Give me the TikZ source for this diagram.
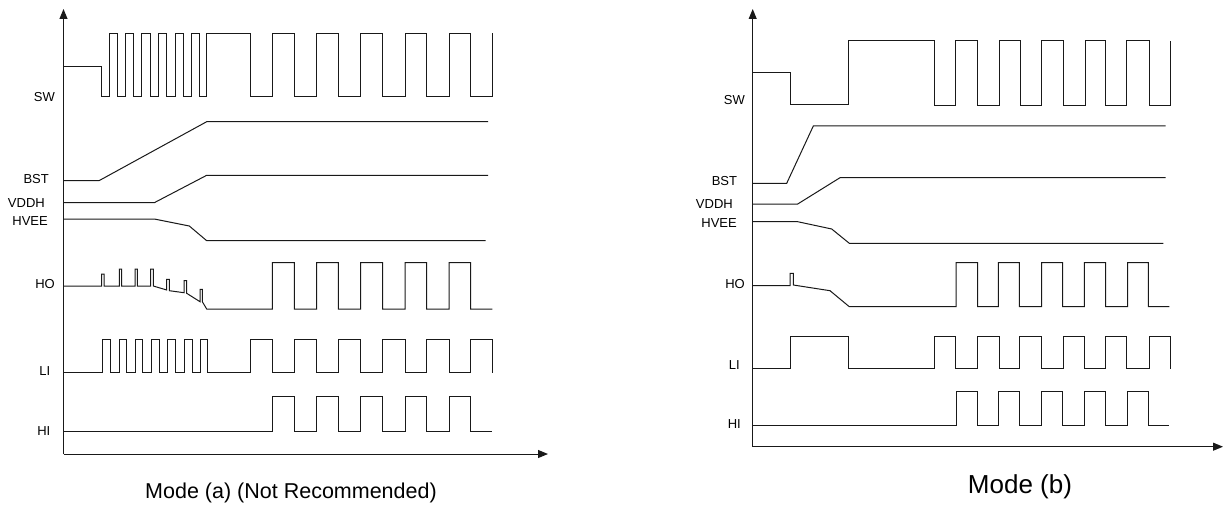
\documentclass[tikz,border=0pt]{standalone}
\usepackage{fontspec}
\setmainfont{Liberation Sans}
\usetikzlibrary{arrows.meta}
\tikzset{
  wave/.style={line width=1pt, line join=miter, draw=black!90},
  axisline/.style={line width=1pt, draw=black!90, -{Triangle[length=10pt,width=8pt]}},
  lbl/.style={font=\fontsize{13}{15}\selectfont, anchor=east, inner sep=0pt},
  capt/.style={font=\fontsize{21.5}{26}\selectfont, inner sep=0pt},
  captb/.style={font=\fontsize{26}{30}\selectfont, inner sep=0pt},
}
\begin{document}
\begin{tikzpicture}[x=1pt,y=-1pt]
\useasboundingbox (0,0) rectangle (1225,508);
% ===== LEFT: Mode (a) =====
\coordinate (oa) at (63.5,454);
\coordinate (ya) at (63.5,9);
\coordinate (xa) at (548,454);
\draw[axisline] (oa) -- (ya);
\draw[axisline] (oa) -- (xa);
% labels
\node[lbl] (swa) at (55,96.7) {SW};
\node[lbl] (bsta) at (49,179) {BST};
\node[lbl] (vddha) at (45,203) {VDDH};
\node[lbl] (hveea) at (48,221.5) {HVEE};
\node[lbl] (hoa) at (55,284.5) {HO};
\node[lbl] (lia) at (50.5,371.5) {LI};
\node[lbl] (hia) at (50.5,431.5) {HI};
% SW
\draw[wave] (63.5,66.7) -- (101.7,66.7) -- (101.7,96.7) -- (109.3,96.7) -- (109.3,33.3) -- (117.7,33.3) -- (117.7,96.7) -- (125,96.7) -- (125,33.3) -- (133.3,33.3) -- (133.3,96.7) -- (141.7,96.7) -- (141.7,33.3) -- (150,33.3) -- (150,96.7) -- (158.3,96.7) -- (158.3,33.3) -- (166.7,33.3) -- (166.7,96.7) -- (175,96.7) -- (175,33.3) -- (183.3,33.3) -- (183.3,96.7) -- (191,96.7) -- (191,33.3) -- (199,33.3) -- (199,96.7) -- (206.7,96.7) -- (206.7,33.3) -- (250,33.3) -- (250,96.7) -- (272.3,96.7) -- (272.3,33.3) -- (294.3,33.3) -- (294.3,96.7) -- (316.7,96.7) -- (316.7,33.3) -- (338.3,33.3) -- (338.3,96.7) -- (360.7,96.7) -- (360.7,33.3) -- (382.7,33.3) -- (382.7,96.7) -- (405,96.7) -- (405,33.3) -- (426.7,33.3) -- (426.7,96.7) -- (449,96.7) -- (449,33.3) -- (470.7,33.3) -- (470.7,96.7) -- (492.3,96.7) -- (492.3,33.3);
% BST
\draw[wave] (63.5,180.7) -- (99,180.7) -- (206.7,121.7) -- (488,121.7);
% VDDH
\draw[wave] (63.5,202.7) -- (154.3,202.7) -- (206.7,175.3) -- (488,175.3);
% HVEE
\draw[wave] (63.5,219) -- (154.3,219) -- (189.3,226) -- (206.7,240.7) -- (485.7,240.7);
% HO
\draw[wave] (63.5,286) -- (101.7,286) -- (101.7,274) -- (104,274) -- (104,286) -- (119.3,286) -- (119.3,269) -- (121.7,269) -- (121.7,286) -- (135,286) -- (135,269) -- (137.3,269) -- (137.3,286) -- (150.7,286) -- (150.7,269) -- (153.3,269) -- (153.3,286) -- (166.7,290) -- (166.7,279.3) -- (169.3,279.3) -- (169.3,290.7) -- (184,292.7) -- (184,280.7) -- (186.7,280.7) -- (186.7,293.3) -- (200,301.7) -- (200,289.3) -- (202.3,289.3) -- (202.3,301.7) -- (206.7,309) -- (272.3,309) -- (272.3,262.7) -- (294.3,262.7) -- (294.3,309) -- (316.7,309) -- (316.7,262.7) -- (338.3,262.7) -- (338.3,309) -- (360.7,309) -- (360.7,262.7) -- (382.7,262.7) -- (382.7,309) -- (405,309) -- (405,262.7) -- (426.7,262.7) -- (426.7,309) -- (449,309) -- (449,262.7) -- (470.7,262.7) -- (470.7,309) -- (492.3,309);
% LI
\draw[wave] (63.5,372.7) -- (102.7,372.7) -- (102.7,339.3) -- (110.7,339.3) -- (110.7,372.7) -- (119,372.7) -- (119,339.3) -- (126.7,339.3) -- (126.7,372.7) -- (135,372.7) -- (135,339.3) -- (142.7,339.3) -- (142.7,372.7) -- (151,372.7) -- (151,339.3) -- (159.3,339.3) -- (159.3,372.7) -- (167.7,372.7) -- (167.7,339.3) -- (175.3,339.3) -- (175.3,372.7) -- (184,372.7) -- (184,339.3) -- (192,339.3) -- (192,372.7) -- (200,372.7) -- (200,339.3) -- (207.3,339.3) -- (207.3,372.7) -- (250,372.7) -- (250,339.3) -- (272.3,339.3) -- (272.3,372.7) -- (294.3,372.7) -- (294.3,339.3) -- (316.7,339.3) -- (316.7,372.7) -- (338.3,372.7) -- (338.3,339.3) -- (360.7,339.3) -- (360.7,372.7) -- (382.7,372.7) -- (382.7,339.3) -- (405,339.3) -- (405,372.7) -- (426.7,372.7) -- (426.7,339.3) -- (449,339.3) -- (449,372.7) -- (470.7,372.7) -- (470.7,339.3) -- (492.3,339.3) -- (492.3,372.7);
% HI
\draw[wave] (63.5,431.7) -- (272.3,431.7) -- (272.3,396.7) -- (294.3,396.7) -- (294.3,431.7) -- (316.7,431.7) -- (316.7,396.7) -- (338.3,396.7) -- (338.3,431.7) -- (360.7,431.7) -- (360.7,396.7) -- (382.7,396.7) -- (382.7,431.7) -- (405,431.7) -- (405,396.7) -- (426.7,396.7) -- (426.7,431.7) -- (449,431.7) -- (449,396.7) -- (470.7,396.7) -- (470.7,431.7) -- (492.3,431.7);
\node[capt] (capa) at (291,493) {Mode (a) (Not Recommended)};
% ===== RIGHT: Mode (b) =====
\coordinate (ob) at (752.7,446.7);
\coordinate (yb) at (752.7,9);
\coordinate (xb) at (1223,446.7);
\draw[axisline] (ob) -- (yb);
\draw[axisline] (ob) -- (xb);
\node[lbl] (swb) at (745,100) {SW};
\node[lbl] (bstb) at (737.3,181.5) {BST};
\node[lbl] (vddhb) at (733,204) {VDDH};
\node[lbl] (hveeb) at (737,223) {HVEE};
\node[lbl] (hob) at (745,284.5) {HO};
\node[lbl] (lib) at (740,365.5) {LI};
\node[lbl] (hib) at (741,424.5) {HI};
% SW
\draw[wave] (752.7,72.3) -- (790,72.3) -- (790,105) -- (848.7,105) -- (848.7,40.7) -- (934.3,40.7) -- (934.3,105.5) -- (955.7,105.5) -- (955.7,40.7) -- (977.7,40.7) -- (977.7,105.5) -- (999,105.5) -- (999,40.7) -- (1020.3,40.7) -- (1020.3,105.5) -- (1041.7,105.5) -- (1041.7,40.7) -- (1063.3,40.7) -- (1063.3,105.5) -- (1085,105.5) -- (1085,40.7) -- (1105.7,40.7) -- (1105.7,105.5) -- (1126.7,105.5) -- (1126.7,40.7) -- (1149,40.7) -- (1149,105.5) -- (1170,105.5) -- (1170,41);
% BST
\draw[wave] (752.7,183.3) -- (786.7,183.3) -- (813.3,126) -- (1165.7,126);
% VDDH
\draw[wave] (752.7,204) -- (797.7,204) -- (840,177.7) -- (1165.7,177.7);
% HVEE
\draw[wave] (752.7,221.7) -- (797.7,221.7) -- (831.7,229) -- (849.3,243.3) -- (1163.3,243.3);
% HO
\draw[wave] (752.7,285.7) -- (790,285.7) -- (790,273.3) -- (793.3,273.3) -- (793.3,285) -- (830,290.7) -- (849.3,306.7) -- (956,306.7) -- (956,262.7) -- (977.7,262.7) -- (977.7,306.7) -- (998.3,306.7) -- (998.3,262.7) -- (1019.3,262.7) -- (1019.3,306.7) -- (1041.7,306.7) -- (1041.7,262.7) -- (1062.7,262.7) -- (1062.7,306.7) -- (1084.3,306.7) -- (1084.3,262.7) -- (1105.7,262.7) -- (1105.7,306.7) -- (1127.7,306.7) -- (1127.7,262.7) -- (1148.3,262.7) -- (1148.3,306.7) -- (1169.3,306.7);
% LI
\draw[wave] (752.7,368.7) -- (790,368.7) -- (790,336.7) -- (848.7,336.7) -- (848.7,368.7) -- (934.3,368.7) -- (934.3,336.7) -- (955.7,336.7) -- (955.7,368.7) -- (977.3,368.7) -- (977.3,336.7) -- (999,336.7) -- (999,368.7) -- (1019,368.7) -- (1019,336.7) -- (1041,336.7) -- (1041,368.7) -- (1063.3,368.7) -- (1063.3,336.7) -- (1084.3,336.7) -- (1084.3,368.7) -- (1105.7,368.7) -- (1105.7,336.7) -- (1126.7,336.7) -- (1126.7,368.7) -- (1149,368.7) -- (1149,336.7) -- (1170,336.7) -- (1170,368.7);
% HI
\draw[wave] (752.7,425.7) -- (956,425.7) -- (956,391.7) -- (977.7,391.7) -- (977.7,425.7) -- (998.3,425.7) -- (998.3,391.7) -- (1019.3,391.7) -- (1019.3,425.7) -- (1041.7,425.7) -- (1041.7,391.7) -- (1062.7,391.7) -- (1062.7,425.7) -- (1084.3,425.7) -- (1084.3,391.7) -- (1105.7,391.7) -- (1105.7,425.7) -- (1127.7,425.7) -- (1127.7,391.7) -- (1148.3,391.7) -- (1148.3,425.7) -- (1169.3,425.7);
\node[captb] (capb) at (1020,487) {Mode (b)};
\end{tikzpicture}
\end{document}
